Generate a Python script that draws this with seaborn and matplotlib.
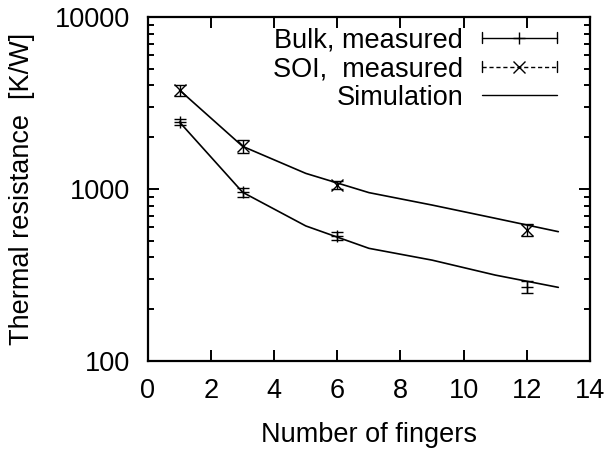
import numpy as np
import pandas as pd
import matplotlib
matplotlib.use("Agg")
import matplotlib.pyplot as plt
import seaborn as sns
from matplotlib.legend_handler import HandlerBase
from matplotlib.lines import Line2D

# ---- data ----
meas_x = [1, 3, 6, 12]
bulk_y = [2450, 957, 533, 270]
bulk_err = [100, 60, 30, 22]
soi_y = [3760, 1770, 1060, 578]
soi_err = [290, 160, 60, 44]

sim_x = [1, 3, 5, 7, 9, 11, 13]
sim_bulk = [2450, 957, 610, 452, 386, 316, 268]
sim_soi = [3760, 1770, 1233, 953, 807, 676, 565]

x_ticks = [0, 2, 4, 6, 8, 10, 12, 14]
y_ticks = [100, 1000, 10000]

sns.set_theme(style="ticks", rc={
    "text.color": "black", "axes.labelcolor": "black",
    "xtick.color": "black", "ytick.color": "black",
    "axes.edgecolor": "black",
})
plt.rcParams['font.family'] = ['Liberation Sans', 'DejaVu Sans']

FS = 19.5

fig = plt.figure(figsize=(6.05, 4.49), dpi=100)
ax = fig.add_axes([0.2446, 0.196, 0.7304, 0.766])

sim_df = pd.DataFrame({
    "x": sim_x * 2,
    "y": sim_bulk + sim_soi,
    "series": ["bulk"] * len(sim_x) + ["soi"] * len(sim_x),
})
sns.lineplot(data=sim_df, x="x", y="y", units="series", estimator=None,
             color="black", lw=1.2, ax=ax, legend=False)

ax.errorbar(meas_x, bulk_y, yerr=bulk_err, fmt='none', ecolor='black',
            elinewidth=1.0, capsize=4, capthick=1.0)
ax.plot(meas_x, bulk_y, ls='none', marker='+', ms=9, mew=1.0, color='black')
ax.errorbar(meas_x, soi_y, yerr=soi_err, fmt='none', ecolor='black',
            elinewidth=1.0, capsize=4, capthick=1.0)
ax.plot(meas_x, soi_y, ls='none', marker='x', ms=8, mew=1.0, color='black')

ax.set_yscale('log')
ax.set_xlim(0, 14)
ax.set_ylim(100, 10000)
ax.set_xticks(x_ticks)
ax.set_xticklabels([str(t) for t in x_ticks])
ax.set_yticks(y_ticks)
ax.set_yticklabels([str(t) for t in y_ticks])
ax.minorticks_on()
ax.xaxis.set_minor_locator(matplotlib.ticker.NullLocator())

for s in ax.spines.values():
    s.set_linewidth(1.6)
    s.set_color('black')
    s.set_visible(True)
ax.tick_params(which='both', direction='in', top=True, right=True,
               color='black', width=1.4, labelcolor='black')
ax.tick_params(which='major', length=8, labelsize=FS)
ax.tick_params(axis='x', which='major', pad=12)
ax.tick_params(axis='y', which='major', pad=13)
ax.tick_params(which='minor', length=4)

ax.set_xlabel("Number of fingers", fontsize=FS, labelpad=13, color='black')
ax.set_ylabel("Thermal resistance  [K/W]", fontsize=FS, labelpad=14, color='black')


class ErrKeyHandler(HandlerBase):
    def __init__(self, marker, ls, caps=True):
        super().__init__()
        self.marker = marker
        self.ls = ls
        self.caps = caps

    def create_artists(self, legend, orig_handle, xdescent, ydescent,
                       width, height, fontsize, trans):
        y = height / 2 - ydescent
        x0, x1 = -xdescent, width - xdescent
        arts = [Line2D([x0, x1], [y, y], color='black', lw=1.0, ls=self.ls,
                       transform=trans)]
        if self.caps:
            c = 4
            arts.append(Line2D([x0, x0], [y - c, y + c], color='black', lw=1.0, transform=trans))
            arts.append(Line2D([x1, x1], [y - c, y + c], color='black', lw=1.0, transform=trans))
        if self.marker:
            arts.append(Line2D([(x0 + x1) / 2], [y], color='black', marker=self.marker,
                               ms=9 if self.marker == '+' else 8, mew=1.0, ls='none',
                               transform=trans))
        return arts


h1 = Line2D([], [], color='black')
h2 = Line2D([], [], color='black', ls='--')
h3 = Line2D([], [], color='black')
leg = ax.legend([h1, h2, h3], ["Bulk, measured", "SOI,  measured", "Simulation"],
                handler_map={h1: ErrKeyHandler('+', '-'),
                             h2: ErrKeyHandler('x', (0, (3, 2))),
                             h3: ErrKeyHandler(None, '-', caps=False)},
                loc='upper right', bbox_to_anchor=(0.925, 0.97), frameon=False,
                markerfirst=False, fontsize=FS, handlelength=2.75,
                handletextpad=0.7, labelspacing=0.1, borderaxespad=0,
                borderpad=0)
for t in leg.get_texts():
    t.set_color('black')

fig.savefig("out.png", dpi=100)
